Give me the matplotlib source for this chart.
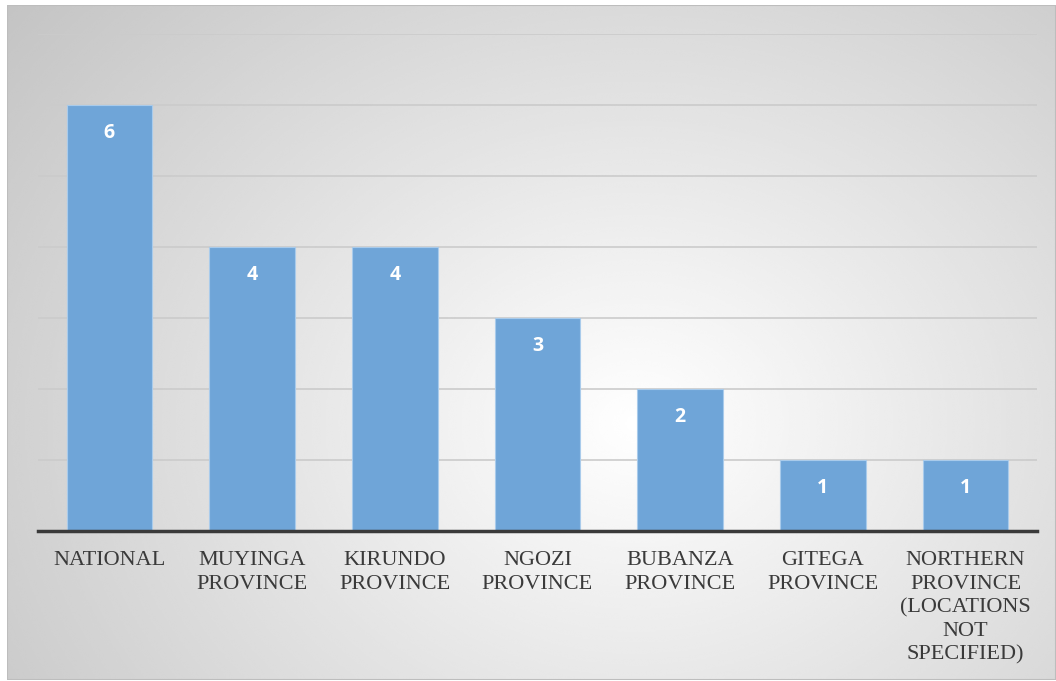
import numpy as np
from matplotlib import pyplot as plt
from matplotlib.patches import Rectangle

categories = [
    "NATIONAL",
    "MUYINGA\nPROVINCE",
    "KIRUNDO\nPROVINCE",
    "NGOZI\nPROVINCE",
    "BUBANZA\nPROVINCE",
    "GITEGA\nPROVINCE",
    "NORTHERN\nPROVINCE\n(LOCATIONS\nNOT\nSPECIFIED)",
]
counts = [6, 4, 4, 3, 2, 1, 1]

W, H = 1056, 681
fig = plt.figure(figsize=(W / 100, H / 100), dpi=100)
fig.patch.set_facecolor("white")

# radial grey gradient behind the chart
bg = fig.add_axes([7 / W, 1 / H, 1049 / W, 675 / H])
yy, xx = np.mgrid[0:1:400j, 0:1:600j]
dist = np.sqrt(((xx - 0.6) / 0.75) ** 2 + ((yy - 0.62) / 0.95) ** 2)
shade = 1.0 - 0.27 * np.clip(dist, 0, 1.2) / 1.2
bg.imshow(shade, cmap="gray", vmin=0, vmax=1, extent=[0, 1, 0, 1],
          origin="upper", aspect="auto", interpolation="bicubic")
bg.add_patch(Rectangle((0, 0), 1, 1, transform=bg.transAxes, fill=False,
                       edgecolor="#bdbdbd", linewidth=1.5))
bg.set_axis_off()

ax = fig.add_axes([38 / W, 150 / H, 999 / W, 497 / H])
ax.set_facecolor("none")
x = np.arange(len(categories))
bars = ax.bar(x, counts, width=0.6, color="#6fa5d8", edgecolor="#a9cbeb",
              linewidth=0.8, zorder=3)

for xi, v in zip(x, counts):
    ax.annotate(f"{v}", xy=(xi, v), xytext=(0, -20), textcoords="offset points",
                ha="center", va="center", color="white", fontsize=14,
                fontweight="bold", fontfamily="Open Sans", zorder=4)

ax.set_xlim(-0.5, len(categories) - 0.5)
ax.set_ylim(0, 7)
ax.set_yticks(range(1, 8))
ax.yaxis.grid(True, color="#cbcbcb", linewidth=1.2, zorder=0)
ax.tick_params(axis="y", left=False, labelleft=False)
ax.tick_params(axis="x", bottom=False, pad=11)
ax.set_xticks(x)
ax.set_xticklabels(categories, fontsize=16, fontfamily=["Liberation Serif", "DejaVu Serif"],
                   color="#3a3a3a", linespacing=1.32, va="top")
for s in ["top", "left", "right"]:
    ax.spines[s].set_visible(False)
ax.spines["bottom"].set_color("#3a3a3a")
ax.spines["bottom"].set_linewidth(2.5)
ax.spines["bottom"].set_zorder(5)

plt.savefig("out.png", dpi=100)
